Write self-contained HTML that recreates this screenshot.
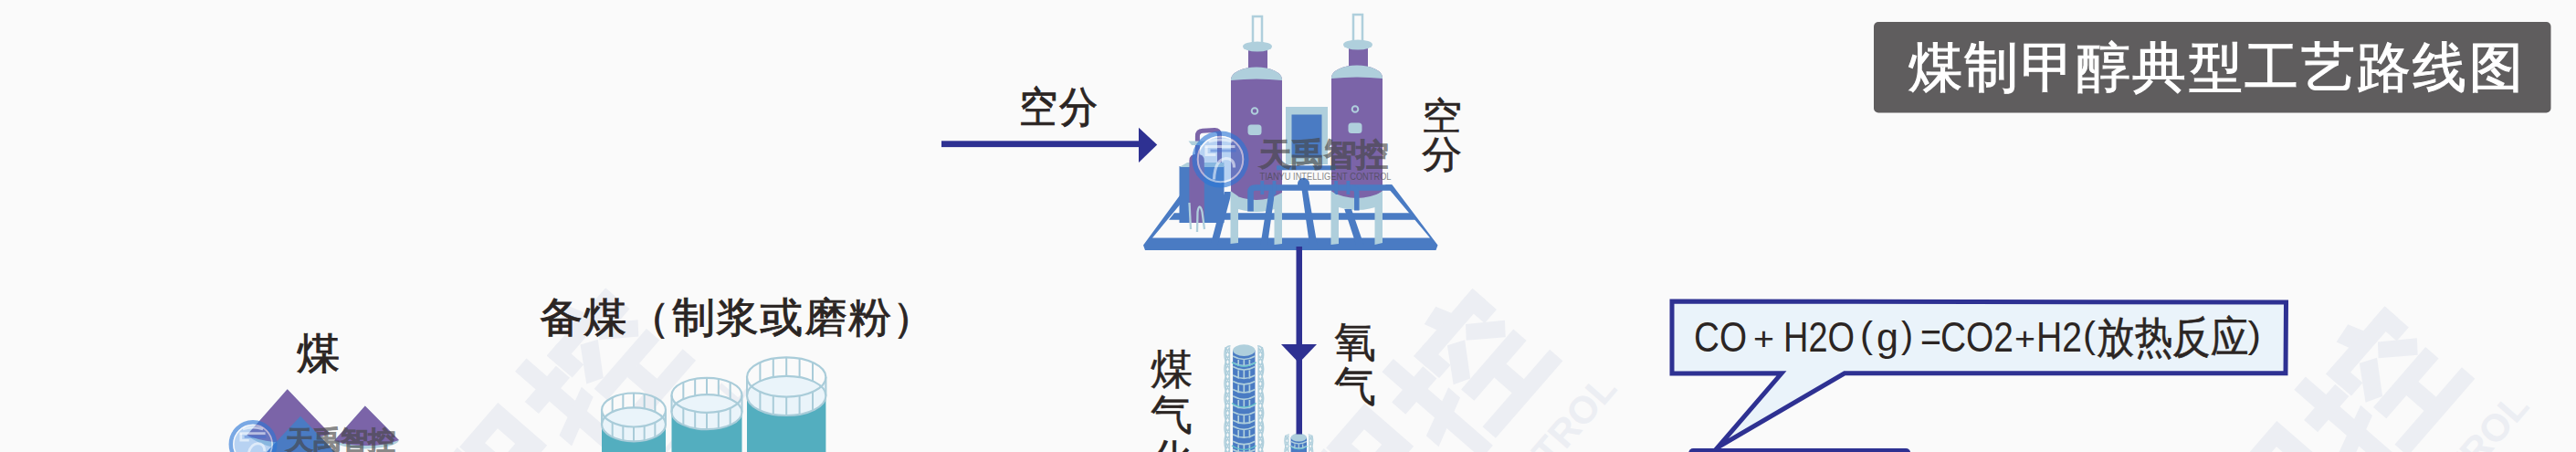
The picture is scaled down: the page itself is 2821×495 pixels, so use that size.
<!DOCTYPE html>
<html><head><meta charset="utf-8">
<style>
html,body{margin:0;padding:0;}
body{width:2821px;height:495px;overflow:hidden;position:relative;background:#fafafa;font-family:"Liberation Sans",sans-serif;color:#2b2523;}
.t{position:absolute;white-space:nowrap;line-height:1;-webkit-text-stroke:0.9px #2b2523;}
svg{position:absolute;left:0;top:0;}
</style></head><body>
<svg width="2821" height="495" viewBox="0 0 2821 495">
  <defs>
    <g id="wm" fill="#eceef3">
      <rect x="-103" y="-126.6" width="98" height="19.0"/>
      <rect x="-25" y="-126.6" width="20" height="34.89999999999999"/>
      <rect x="-103" y="-126.6" width="19" height="36.8"/>
      <polygon points="-69.2,-140.9 -46.3,-144 -40.2,-126 -64.8,-126"/>
      <polygon points="-39.4,-106.7 -8,-77.1 -21.4,-64.4 -52.4,-94.5"/>
      <polygon points="-70,-106.7 -53,-96 -80.9,-63.8 -98.1,-73.4"/>
      <rect x="-96.5" y="-63.6" width="87.2" height="19.0"/>
      <rect x="-63" y="-45" width="20" height="26.5"/>
      <rect x="-112" y="-19" width="112" height="19"/>
      <rect x="-139" y="-141.5" width="19" height="144.5"/>
      <rect x="-157" y="-111.6" width="52" height="20.0"/>
      <polygon points="-160,-59 -104,-75.5 -104,-58.5 -160,-41"/>
      <text x="-172.5" y="-14.5" text-anchor="end" font-family="Liberation Sans, sans-serif" font-weight="bold" font-size="160" stroke="#eceef3" stroke-width="6">天禹智</text>
      <text x="16.5" y="66.4" text-anchor="end" font-family="Liberation Sans, sans-serif" font-weight="bold" font-size="42">TIANYU INTELLIGENT CONTROL</text>
    </g>
  </defs>
  <!-- big watermarks -->
  <use href="#wm" transform="translate(762,394.7) rotate(-49)"/>
  <use href="#wm" transform="translate(1711.4,395.3) rotate(-49)"/>
  <use href="#wm" transform="translate(2710.3,414.8) rotate(-49)"/>

  <!-- ===== coal piles ===== -->
  <g id="coal">
    <path d="M270.4,476.5 L314.7,426.3 L360.6,474.9 Q330,492 300,490 Q282,486 270.4,476.5 Z" fill="#afcfdc"/>
    <path d="M270.4,476.5 L314.7,426.3 L361.5,474.9 Q330,486 300,484 Q282,482 270.4,476.5 Z" fill="#7b64a8"/>
    <polygon points="329,455.7 367,495 292,495" fill="#4a7bc3"/>
    <path d="M366.1,482.6 L399.8,444.6 L436.9,482 Q435,490 400,491.5 Q368,490 366.1,482.6 Z" fill="#afcfdc"/>
    <path d="M366.1,482.6 L399.8,444.6 L436.9,482 Q420,488.5 400,488 Q378,488 366.1,482.6 Z" fill="#7b64a8"/>
  </g>
  <!-- ===== tanks ===== -->
  <g id="tanks">
    <rect x="659" y="464.8" width="70" height="35.19999999999999" fill="#53aebf"/>
    <path d="M659,449.0 A35,18.5 0 0 0 729,449.0 L729,464.8 A35,18.5 0 0 1 659,464.8 Z" fill="#eaf4fa"/>
    <ellipse cx="694" cy="464.8" rx="35" ry="18.5" fill="#eaf4fa"/>
    <path d="M659.00,449.00 L659.00,464.80 M670.67,435.21 L670.67,451.01 M670.67,462.79 L670.67,478.59 M682.33,431.56 L682.33,447.36 M682.33,466.44 L682.33,482.24 M694.00,430.50 L694.00,446.30 M694.00,467.50 L694.00,483.30 M705.67,431.56 L705.67,447.36 M705.67,466.44 L705.67,482.24 M717.33,435.21 L717.33,451.01 M717.33,462.79 L717.33,478.59 M729.00,449.00 L729.00,464.80" stroke="#a9ccd9" stroke-width="2" fill="none"/>
    <ellipse cx="694" cy="464.8" rx="35" ry="18.5" fill="none" stroke="#a9ccd9" stroke-width="2.2"/>
    <ellipse cx="694" cy="449.0" rx="35" ry="18.5" fill="none" stroke="#a9ccd9" stroke-width="2.2"/>
    <rect x="735.5" y="451.2" width="77.0" height="48.80000000000001" fill="#53aebf"/>
    <path d="M735.5,432.8 A38.5,19 0 0 0 812.5,432.8 L812.5,451.2 A38.5,19 0 0 1 735.5,451.2 Z" fill="#eaf4fa"/>
    <ellipse cx="774" cy="451.2" rx="38.5" ry="19" fill="#eaf4fa"/>
    <path d="M735.50,432.80 L735.50,451.20 M748.33,418.64 L748.33,437.04 M748.33,446.96 L748.33,465.36 M761.17,414.89 L761.17,433.29 M761.17,450.71 L761.17,469.11 M774.00,413.80 L774.00,432.20 M774.00,451.80 L774.00,470.20 M786.83,414.89 L786.83,433.29 M786.83,450.71 L786.83,469.11 M799.67,418.64 L799.67,437.04 M799.67,446.96 L799.67,465.36 M812.50,432.80 L812.50,451.20" stroke="#a9ccd9" stroke-width="2" fill="none"/>
    <ellipse cx="774" cy="451.2" rx="38.5" ry="19" fill="none" stroke="#a9ccd9" stroke-width="2.2"/>
    <ellipse cx="774" cy="432.8" rx="38.5" ry="19" fill="none" stroke="#a9ccd9" stroke-width="2.2"/>
    <rect x="818.0" y="433.4" width="86.4" height="66.60000000000002" fill="#53aebf"/>
    <path d="M818.0,413.0 A43.2,21.6 0 0 0 904.4000000000001,413.0 L904.4000000000001,433.4 A43.2,21.6 0 0 1 818.0,433.4 Z" fill="#eaf4fa"/>
    <ellipse cx="861.2" cy="433.4" rx="43.2" ry="21.6" fill="#eaf4fa"/>
    <path d="M818.00,413.00 L818.00,433.40 M832.40,396.90 L832.40,417.30 M832.40,429.10 L832.40,449.50 M846.80,392.64 L846.80,413.04 M846.80,433.36 L846.80,453.76 M861.20,391.40 L861.20,411.80 M861.20,434.60 L861.20,455.00 M875.60,392.64 L875.60,413.04 M875.60,433.36 L875.60,453.76 M890.00,396.90 L890.00,417.30 M890.00,429.10 L890.00,449.50 M904.40,413.00 L904.40,433.40" stroke="#a9ccd9" stroke-width="2" fill="none"/>
    <ellipse cx="861.2" cy="433.4" rx="43.2" ry="21.6" fill="none" stroke="#a9ccd9" stroke-width="2.2"/>
    <ellipse cx="861.2" cy="413.0" rx="43.2" ry="21.6" fill="none" stroke="#a9ccd9" stroke-width="2.2"/>
  </g>

  <!-- ===== air separation equipment ===== -->
  <g id="equip">
    <!-- towers -->
    <g id="tower">
      <rect x="1372" y="18" width="10" height="30" fill="#fafafa" stroke="#afcfdc" stroke-width="2.5"/>
      <rect x="1367" y="52" width="21" height="24" fill="#7b64a8"/>
      <ellipse cx="1377" cy="51" rx="16" ry="5.6" fill="#afcfdc"/>
      <path d="M1348,222 L1348,87 A28,13.5 0 0 1 1404,87 L1404,222 Z" fill="#7b64a8"/>
      <path d="M1348,88 L1348,87 A28,13.5 0 0 1 1404,87 L1404,88 Q1376,85 1348,88 Z" fill="#afcfdc"/>
      <circle cx="1374" cy="121.5" r="3.3" fill="none" stroke="#afcfdc" stroke-width="2"/>
      <rect x="1366.5" y="136.5" width="15" height="11.5" rx="3.5" fill="#afcfdc"/>
      <path d="M1348,212 Q1376,226 1404,212 L1404,226 Q1376,238 1348,226 Z" fill="#afcfdc"/>
    </g>
    <use href="#tower" transform="translate(110,-2)"/>
    <!-- middle panel -->
    <rect x="1408" y="117" width="46" height="63" fill="#afcfdc"/>
    <rect x="1414.5" y="125.5" width="33" height="47" fill="#4a7bc3"/>
    <rect x="1398" y="181.3" width="65" height="5" fill="#4a7bc3"/>
    <!-- platform -->
    <g fill="#4a7bc3">
      <polygon points="1252,268.5 1292,214 1300.5,214 1262,260.5 1566,260.5 1517,202.3 1524.5,202.3 1574.5,268.5 1572.5,274 1254,274"/>
      <polygon points="1286,233.3 1544,233.3 1550,240.8 1280,240.8"/>
      <polygon points="1325.6,268 1333.6,268 1349,210 1341,210"/>
      <polygon points="1380.4,268 1388,268 1396.4,208 1389.8,208"/>
      <polygon points="1434,268 1442.5,268 1432.2,208 1425.6,208"/>
      <polygon points="1485,268 1493.5,268 1480,229 1472.3,229"/>
    </g>
    <!-- left small tank group -->
    <rect x="1291.5" y="182" width="49" height="62" fill="#4a7bc3"/>
    <polygon points="1291.5,183 1300,178 1340.5,178 1340.5,183" fill="#afcfdc"/>
    <path d="M1302.4,244 L1302.4,176 Q1302.4,168.8 1310.6,168.8 Q1318.8,168.8 1318.8,176 L1318.8,244 Z" fill="#7b64a8"/>
    <path d="M1311.4,170 L1311.4,149 Q1311.4,143.5 1317,143.2 L1330,142.6 Q1335.5,142.4 1335.5,148 L1335.5,178" fill="none" stroke="#7b64a8" stroke-width="5"/>
    <polygon points="1301.5,154.5 1320,154.5 1316,159 1305,159" fill="#afcfdc"/>
    <!-- pipes -->
    <g fill="none" stroke="#4a7bc3">
      <path d="M1369.5,231.5 L1369.5,210 Q1369.5,205.5 1375,205.5 L1524,205.5" stroke-width="6.6"/>
      <path d="M1480,205.5 Q1485.8,205.5 1485.8,211 L1485.8,230.5" stroke-width="5.5"/>
      <path d="M1382.3,213 L1382.3,198" stroke-width="3.8"/>
      <path d="M1395.5,213 L1395.5,198" stroke-width="3.8"/>
      <path d="M1463.2,213 L1463.2,198" stroke-width="3.8"/>
      <path d="M1476.4,213 L1476.4,198" stroke-width="3.8"/>
    </g>
    <circle cx="1427.5" cy="201.3" r="6.5" fill="#4a7bc3"/>
    <!-- legs -->
    <g fill="#afcfdc">
      <polygon points="1347.5,209 1356,215 1356,266 1347.5,267"/>
      <polygon points="1395.5,215 1404,211 1404,267 1395.5,268"/>
      <polygon points="1457.5,209 1466,215 1466,267 1457.5,268"/>
      <polygon points="1505.5,215 1514,209 1514,266 1505.5,268"/>
    </g>
    <!-- hanging tubes -->
    <g fill="none" stroke="#afcfdc" stroke-width="2.3">
      <path d="M1302.5,222 L1304,251"/>
      <path d="M1311,254 L1311.5,232 Q1313.5,221 1316.5,232 L1319,251"/>
    </g>
  </g>

  <!-- ===== gasifier ===== -->
  <g id="gasifier">
    <rect x="1350.10" y="383.60" width="24.40" height="116.40" fill="#4a7bc3"/>
    <path d="M1350.10,390.04 Q1362.30,396.96 1374.50,390.04 M1350.10,397.24 Q1362.30,404.16 1374.50,397.24 M1356.20,394.10 L1356.20,401.00 M1362.30,394.10 L1362.30,401.00 M1368.40,394.10 L1368.40,401.00 M1350.10,401.54 Q1362.30,408.46 1374.50,401.54 M1350.10,411.04 Q1362.30,417.96 1374.50,411.04 M1356.20,405.60 L1356.20,414.80 M1362.30,405.60 L1362.30,414.80 M1368.40,405.60 L1368.40,414.80 M1350.10,417.44 Q1362.30,424.36 1374.50,417.44 M1350.10,426.54 Q1362.30,433.46 1374.50,426.54 M1356.20,421.50 L1356.20,430.30 M1362.30,421.50 L1362.30,430.30 M1368.40,421.50 L1368.40,430.30 M1350.10,433.84 Q1362.30,440.76 1374.50,433.84 M1350.10,443.44 Q1362.30,450.37 1374.50,443.44 M1356.20,437.90 L1356.20,447.20 M1362.30,437.90 L1362.30,447.20 M1368.40,437.90 L1368.40,447.20 M1350.10,450.94 Q1362.30,457.86 1374.50,450.94 M1350.10,460.24 Q1362.30,467.16 1374.50,460.24 M1356.20,455.00 L1356.20,464.00 M1362.30,455.00 L1362.30,464.00 M1368.40,455.00 L1368.40,464.00 M1350.10,466.84 Q1362.30,473.76 1374.50,466.84 M1350.10,475.74 Q1362.30,482.66 1374.50,475.74 M1356.20,470.90 L1356.20,479.50 M1362.30,470.90 L1362.30,479.50 M1368.40,470.90 L1368.40,479.50 M1350.10,483.14 Q1362.30,490.06 1374.50,483.14 M1350.10,492.14 Q1362.30,499.06 1374.50,492.14 M1356.20,487.20 L1356.20,495.90 M1362.30,487.20 L1362.30,495.90 M1368.40,487.20 L1368.40,495.90" fill="none" stroke="#afcfdc" stroke-width="1.70"/>
    <path d="M1348.90,396.74 Q1362.30,405.36 1375.70,396.74 M1348.90,441.54 Q1362.30,450.16 1375.70,441.54 M1348.90,488.04 Q1362.30,496.66 1375.70,488.04" fill="none" stroke="#62c3cc" stroke-width="1.20"/>
    <ellipse cx="1362.30" cy="383.60" rx="12.20" ry="6.30" fill="#afcfdc"/>
    <path d="M1342.30,380.30 L1342.30,500 M1346.50,380.30 L1346.50,500 M1382.30,380.30 L1382.30,500 M1378.10,380.30 L1378.10,500 M1342.30,380.30 L1346.50,388.30 M1346.50,380.30 L1342.30,388.30 M1382.30,380.30 L1378.10,388.30 M1378.10,380.30 L1382.30,388.30 M1342.30,388.30 L1346.50,396.30 M1346.50,388.30 L1342.30,396.30 M1382.30,388.30 L1378.10,396.30 M1378.10,388.30 L1382.30,396.30 M1342.30,396.30 L1346.50,404.30 M1346.50,396.30 L1342.30,404.30 M1382.30,396.30 L1378.10,404.30 M1378.10,396.30 L1382.30,404.30 M1342.30,404.30 L1346.50,412.30 M1346.50,404.30 L1342.30,412.30 M1382.30,404.30 L1378.10,412.30 M1378.10,404.30 L1382.30,412.30 M1342.30,412.30 L1346.50,420.30 M1346.50,412.30 L1342.30,420.30 M1382.30,412.30 L1378.10,420.30 M1378.10,412.30 L1382.30,420.30 M1342.30,420.30 L1346.50,428.30 M1346.50,420.30 L1342.30,428.30 M1382.30,420.30 L1378.10,428.30 M1378.10,420.30 L1382.30,428.30 M1342.30,428.30 L1346.50,436.30 M1346.50,428.30 L1342.30,436.30 M1382.30,428.30 L1378.10,436.30 M1378.10,428.30 L1382.30,436.30 M1342.30,436.30 L1346.50,444.30 M1346.50,436.30 L1342.30,444.30 M1382.30,436.30 L1378.10,444.30 M1378.10,436.30 L1382.30,444.30 M1342.30,444.30 L1346.50,452.30 M1346.50,444.30 L1342.30,452.30 M1382.30,444.30 L1378.10,452.30 M1378.10,444.30 L1382.30,452.30 M1342.30,452.30 L1346.50,460.30 M1346.50,452.30 L1342.30,460.30 M1382.30,452.30 L1378.10,460.30 M1378.10,452.30 L1382.30,460.30 M1342.30,460.30 L1346.50,468.30 M1346.50,460.30 L1342.30,468.30 M1382.30,460.30 L1378.10,468.30 M1378.10,460.30 L1382.30,468.30 M1342.30,468.30 L1346.50,476.30 M1346.50,468.30 L1342.30,476.30 M1382.30,468.30 L1378.10,476.30 M1378.10,468.30 L1382.30,476.30 M1342.30,476.30 L1346.50,484.30 M1346.50,476.30 L1342.30,484.30 M1382.30,476.30 L1378.10,484.30 M1378.10,476.30 L1382.30,484.30 M1342.30,484.30 L1346.50,492.30 M1346.50,484.30 L1342.30,492.30 M1382.30,484.30 L1378.10,492.30 M1378.10,484.30 L1382.30,492.30 M1342.30,492.30 L1346.50,500.30 M1346.50,492.30 L1342.30,500.30 M1382.30,492.30 L1378.10,500.30 M1378.10,492.30 L1382.30,500.30" fill="none" stroke="#afcfdc" stroke-width="1.40"/>
    <path d="M1342.30,380.30 Q1339.50,388.30 1342.30,396.30 M1382.30,380.30 Q1385.10,388.30 1382.30,396.30 M1342.30,396.30 Q1339.50,404.30 1342.30,412.30 M1382.30,396.30 Q1385.10,404.30 1382.30,412.30 M1342.30,412.30 Q1339.50,420.30 1342.30,428.30 M1382.30,412.30 Q1385.10,420.30 1382.30,428.30 M1342.30,428.30 Q1339.50,436.30 1342.30,444.30 M1382.30,428.30 Q1385.10,436.30 1382.30,444.30 M1342.30,444.30 Q1339.50,452.30 1342.30,460.30 M1382.30,444.30 Q1385.10,452.30 1382.30,460.30 M1342.30,460.30 Q1339.50,468.30 1342.30,476.30 M1382.30,460.30 Q1385.10,468.30 1382.30,476.30 M1342.30,476.30 Q1339.50,484.30 1342.30,492.30 M1382.30,476.30 Q1385.10,484.30 1382.30,492.30 M1342.30,492.30 Q1339.50,500.30 1342.30,508.30 M1382.30,492.30 Q1385.10,500.30 1382.30,508.30 M1342.30,383.30 Q1342.30,379.30 1347.50,378.80 M1382.30,383.30 Q1382.30,379.30 1377.10,378.80" fill="none" stroke="#afcfdc" stroke-width="1.40"/>
    <rect x="1413.60" y="479.10" width="17.40" height="20.90" fill="#4a7bc3"/>
    <path d="M1413.60,483.42 Q1422.30,488.38 1431.00,483.42 M1413.60,488.62 Q1422.30,493.57 1431.00,488.62 M1417.95,486.50 L1417.95,491.40 M1422.30,486.50 L1422.30,491.40 M1426.65,486.50 L1426.65,491.40" fill="none" stroke="#afcfdc" stroke-width="1.27"/>
    <path d="M1412.40,488.62 Q1422.30,495.28 1432.20,488.62" fill="none" stroke="#62c3cc" stroke-width="0.90"/>
    <ellipse cx="1422.30" cy="479.10" rx="8.70" ry="4.50" fill="#afcfdc"/>
    <path d="M1407.80,476.85 L1407.80,500 M1410.95,476.85 L1410.95,500 M1436.80,476.85 L1436.80,500 M1433.65,476.85 L1433.65,500 M1407.80,476.85 L1410.95,482.85 M1410.95,476.85 L1407.80,482.85 M1436.80,476.85 L1433.65,482.85 M1433.65,476.85 L1436.80,482.85 M1407.80,482.85 L1410.95,488.85 M1410.95,482.85 L1407.80,488.85 M1436.80,482.85 L1433.65,488.85 M1433.65,482.85 L1436.80,488.85 M1407.80,488.85 L1410.95,494.85 M1410.95,488.85 L1407.80,494.85 M1436.80,488.85 L1433.65,494.85 M1433.65,488.85 L1436.80,494.85 M1407.80,494.85 L1410.95,500.85 M1410.95,494.85 L1407.80,500.85 M1436.80,494.85 L1433.65,500.85 M1433.65,494.85 L1436.80,500.85" fill="none" stroke="#afcfdc" stroke-width="1.05"/>
    <path d="M1407.80,476.85 Q1405.70,482.85 1407.80,488.85 M1436.80,476.85 Q1438.90,482.85 1436.80,488.85 M1407.80,488.85 Q1405.70,494.85 1407.80,500.85 M1436.80,488.85 Q1438.90,494.85 1436.80,500.85 M1407.80,479.10 Q1407.80,476.10 1411.95,475.73 M1436.80,479.10 Q1436.80,476.10 1432.65,475.73" fill="none" stroke="#afcfdc" stroke-width="1.05"/>
  </g>

  <!-- ===== small logos ===== -->
  <defs>
    <g id="logo">
      <circle cx="0" cy="0" r="24.5" fill="#4a90e6" fill-opacity="0.38"/>
      <circle cx="0" cy="0" r="28.4" fill="none" stroke="#2a76d6" stroke-opacity="0.62" stroke-width="5.4"/>
      <circle cx="0" cy="0" r="24.8" fill="none" stroke="#ffffff" stroke-opacity="0.5" stroke-width="2"/>
      <g fill="none" stroke="#ffffff" stroke-opacity="0.55" stroke-width="3.2">
        <path d="M-13,-19.5 Q0,-23.5 13,-19.5"/>
        <path d="M-17,-14 L16,-14"/>
        <path d="M-15.5,-14 L-15.5,-5 L-5,-5"/>
        <path d="M-7,22 Q-6,0 6,-1 Q15,-1 15,9"/>
      </g>
      <g fill="none" stroke="#3b6fd0" stroke-opacity="0.45" stroke-width="3">
        <path d="M-11,-9.5 L17,-9.5"/>
      </g>
      <g opacity="0.62" fill="#444444" stroke="#444444" font-family="Liberation Sans, sans-serif" font-weight="bold">
        <text x="42.6" y="6.4" font-size="34.5" stroke-width="0.8" textLength="141.6" lengthAdjust="spacingAndGlyphs">天禹智控</text>
        <text x="43" y="22.8" font-size="10" stroke-width="0" font-weight="normal" textLength="144" lengthAdjust="spacingAndGlyphs">TIANYU INTELLIGENT CONTROL</text>
      </g>
    </g>
  </defs>
  <use href="#logo" transform="translate(1336.5,174.5)"/>
  <use href="#logo" transform="translate(277,486.5) scale(0.85)"/>

  <!-- ===== bubble ===== -->
  <g id="bubble">
    <path d="M1831,330 L2503.5,331 L2503,408.8 L2020,408.8 L1881,490 L1951,408.8 L1831,409 Z" fill="#eaf3fa" stroke="#2e3192" stroke-width="5" stroke-linejoin="miter" stroke-miterlimit="20"/>
    <rect x="1849.2" y="491" width="243" height="14" rx="5" fill="#2e3192"/>
    <g font-family="Liberation Sans, sans-serif" fill="#2b2523" font-size="46">
      <text id="s1" x="1855" y="384.6" textLength="58" lengthAdjust="spacingAndGlyphs">CO</text>
      <text id="s2" x="1920" y="383" textLength="23" lengthAdjust="spacingAndGlyphs" font-size="35">+</text>
      <text id="s3" x="1953" y="384.6" textLength="78" lengthAdjust="spacingAndGlyphs">H2O</text>
      <text id="s4" x="2037" y="380.5" font-size="40" textLength="14" lengthAdjust="spacingAndGlyphs">(</text>
      <text id="s5" x="2055" y="384" textLength="24" lengthAdjust="spacingAndGlyphs" font-size="43">g</text>
      <text id="s6" x="2082" y="380.5" font-size="40" textLength="13" lengthAdjust="spacingAndGlyphs">)</text>
      <text id="s7" x="2103" y="385" textLength="23" lengthAdjust="spacingAndGlyphs">=</text>
      <text id="s8" x="2125" y="384.6" textLength="80" lengthAdjust="spacingAndGlyphs">CO2</text>
      <text id="s9" x="2206" y="383" textLength="23" lengthAdjust="spacingAndGlyphs" font-size="35">+</text>
      <text id="s10" x="2230" y="384.6" textLength="50" lengthAdjust="spacingAndGlyphs">H2</text>
      <text id="s11" x="2281" y="380.5" font-size="40" textLength="14" lengthAdjust="spacingAndGlyphs">(</text>
      <text id="s12" x="2296" y="385.5" textLength="166" lengthAdjust="spacingAndGlyphs" font-size="47.5" stroke="#2b2523" stroke-width="0.6">放热反应</text>
      <text id="s13" x="2461.5" y="380.5" font-size="40" textLength="14.5" lengthAdjust="spacingAndGlyphs">)</text>
    </g>
  </g>

  <!-- title box -->
  <rect x="2052" y="24" width="741.5" height="99.5" rx="5" fill="#5f5d5e"/>
  <!-- arrow 1 -->
  <rect x="1031" y="154.3" width="218" height="6.8" fill="#2e3192"/>
  <polygon points="1247,139.7 1267.2,158.5 1247,178" fill="#2e3192"/>
  <!-- vertical line -->
  <rect x="1419.5" y="270" width="6.5" height="205.5" fill="#2e3192"/>
  <polygon points="1403,377 1442,377 1422.5,397.5" fill="#2e3192"/>
</svg>
<div class="t" style="left:2089.8px;top:44.8px;font-size:59px;color:#fff;letter-spacing:2.4px;-webkit-text-stroke:1.1px #fff">煤制甲醇典型工艺路线图</div>
<div class="t" style="left:1116px;top:94.2px;font-size:46px;letter-spacing:2.5px;transform-origin:0 0;transform:scaleX(0.915)">空分</div>
<div class="t" style="-webkit-text-stroke:0.6px #2b2523;left:1557px;top:106.5px;font-size:44.6px;width:46px;white-space:normal;line-height:44.6px;transform-origin:0 0;transform:scaleY(0.93)">空分</div>
<div class="t" style="-webkit-text-stroke:0.45px #2b2523;left:1461px;top:350px;font-size:46px;width:46px;white-space:normal;line-height:48.5px">氧气</div>
<div class="t" style="-webkit-text-stroke:0.45px #2b2523;left:1260px;top:380px;font-size:46px;width:46px;white-space:normal;line-height:49.5px">煤气化</div>
<div class="t" style="left:324.5px;top:362.5px;font-size:47px">煤</div>
<div class="t" style="left:590.5px;top:324.5px;font-size:47px;letter-spacing:1.34px;transform-origin:0 0;transform:scaleY(0.955)">备煤（制浆或磨粉）</div>
</body></html>
